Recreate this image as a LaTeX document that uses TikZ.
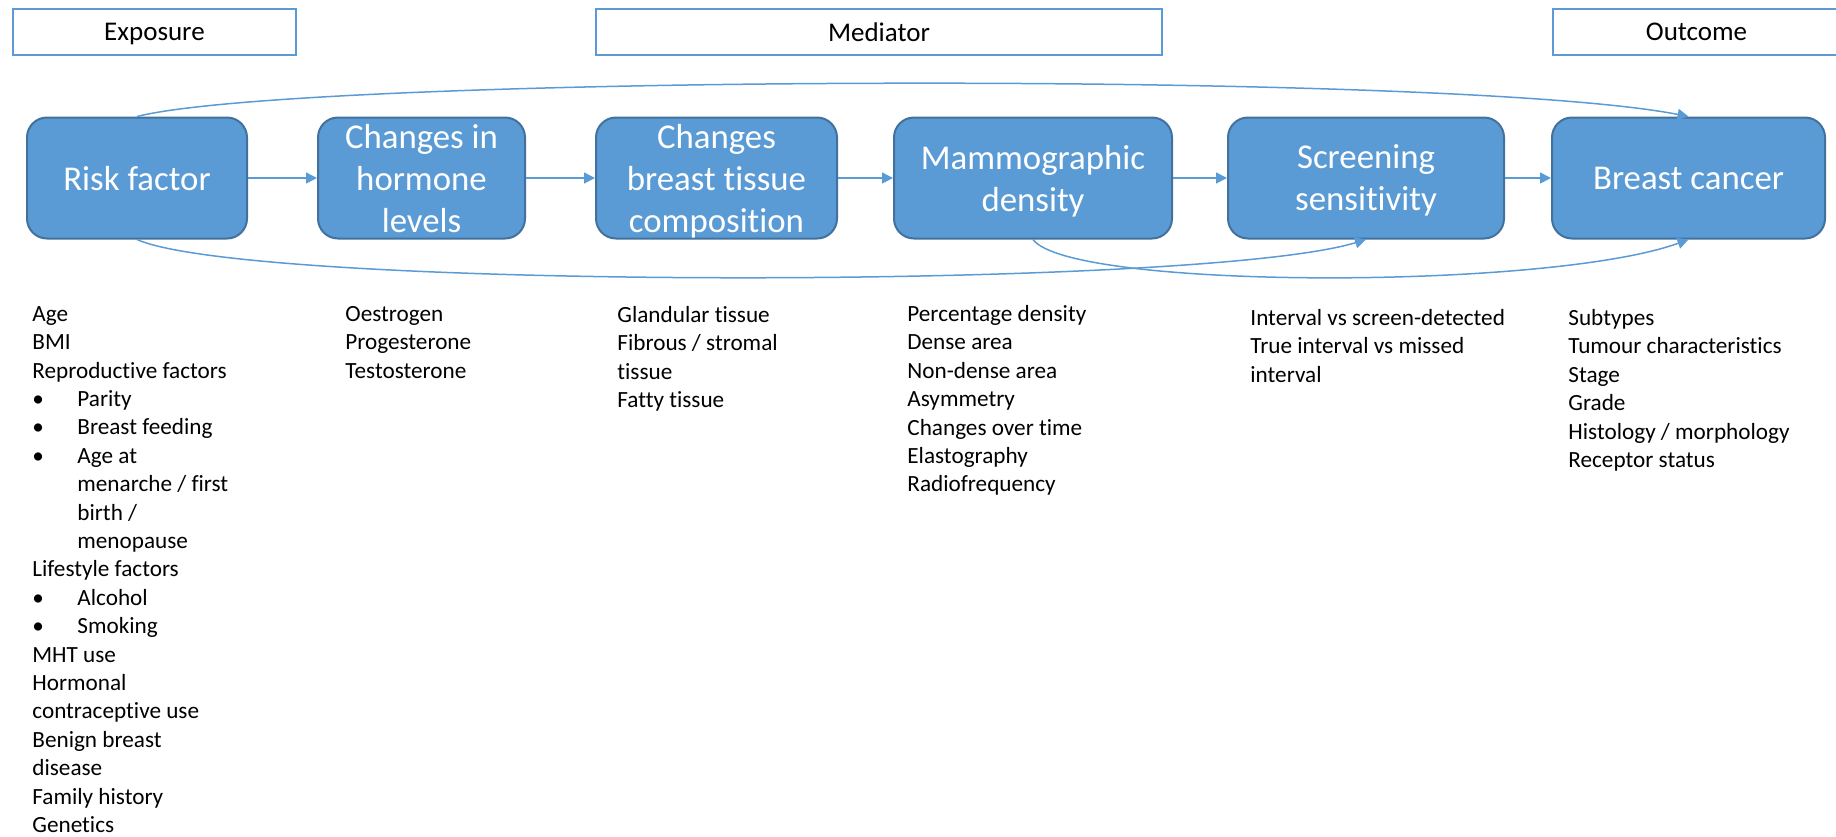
\documentclass[tikz,border=0pt]{standalone}
\usepackage{fontspec}
\setmainfont[Ligatures=NoCommon]{Carlito}
\usetikzlibrary{arrows.meta,positioning}
\definecolor{boxblue}{HTML}{5B9BD5}
\definecolor{boxedge}{HTML}{41719C}
\newcommand{\bul}{\makebox[22.5pt][l]{\textbullet}}
\newcommand{\ind}{\hspace*{22.5pt}}

\begin{document}
\begin{tikzpicture}[x=0.5pt, y=-0.5pt,
    stage/.style={draw=boxedge, line width=1pt, fill=boxblue, rounded corners=10pt, text=white, align=center, minimum height=60.5pt, inner sep=0pt, text depth=0pt, font=\fontsize{17.4}{21}\selectfont},
    header/.style={draw=boxblue, line width=1pt, fill=white, minimum height=23pt, inner sep=0pt, text depth=0pt, font=\fontsize{13.5}{16}\selectfont},
    items/.style={anchor=north west, align=left, inner sep=0pt, font=\fontsize{11.6}{14.2}\selectfont},
    conn/.style={draw=boxblue, line width=0.75pt, -{Triangle[length=5.5pt,width=5.5pt]}}]
    \useasboundingbox (0,0) rectangle (1836,836);

    % headers
    \node[header, minimum width=141.5pt] (exposure) at (154.5,32) {Exposure};
    \node[header, minimum width=283pt] (mediator) at (879,32) {Mediator};
    \node[header, minimum width=143.5pt] (outcome) at (1696.5,32) {Outcome};

    % chain of stages
    \node[stage, minimum width=110pt] (risk) at (137,178) {Risk factor};
    \node[stage, minimum width=103.5pt, right=34.5pt of risk] (hormone) {Changes in\\hormone\\levels};
    \node[stage, minimum width=120.5pt, right=34.5pt of hormone] (tissue) {Changes\\breast tissue\\composition};
    \node[stage, minimum width=139pt, right=27.5pt of tissue] (density) {Mammographic\\density};
    \node[stage, minimum width=138pt, right=27pt of density] (screening) {Screening\\sensitivity};
    \node[stage, minimum width=136.5pt, right=23pt of screening] (cancer) {Breast cancer};

    \draw[conn] (risk) -- (hormone);
    \draw[conn] (hormone) -- (tissue);
    \draw[conn] (tissue) -- (density);
    \draw[conn] (density) -- (screening);
    \draw[conn] (screening) -- (cancer);

    % direct paths
    \draw[conn] (risk.north) .. controls (300,75) and (1450,70) .. (cancer.north);
    \draw[conn] (risk.south) .. controls (250,290) and (1200,290) .. (screening.south);
    \draw[conn] (density.south) .. controls (1070,290) and (1550,290) .. (cancer.south);

    % lists below
    \node[items] (riskitems) at (32,306) {Age\\BMI\\Reproductive factors\\
        \bul Parity\\\bul Breast feeding\\\bul Age at\\\ind menarche / first\\\ind birth /\\\ind menopause\\
        Lifestyle factors\\\bul Alcohol\\\bul Smoking\\MHT use\\Hormonal\\contraceptive use\\
        Benign breast\\disease\\Family history\\Genetics};
    \node[items] (hormoneitems) at (345,306) {Oestrogen\\Progesterone\\Testosterone};
    \node[items] (tissueitems) at (617,306) {Glandular tissue\\Fibrous / stromal\\tissue\\Fatty tissue};
    \node[items] (densityitems) at (907,305) {Percentage density\\Dense area\\Non-dense area\\Asymmetry\\Changes over time\\Elastography\\Radiofrequency};
    \node[items] (screeningitems) at (1250,309) {Interval vs screen-detected\\True interval vs missed\\interval};
    \node[items] (canceritems) at (1568,309) {Subtypes\\Tumour characteristics\\Stage\\Grade\\Histology / morphology\\Receptor status};
\end{tikzpicture}
\end{document}
